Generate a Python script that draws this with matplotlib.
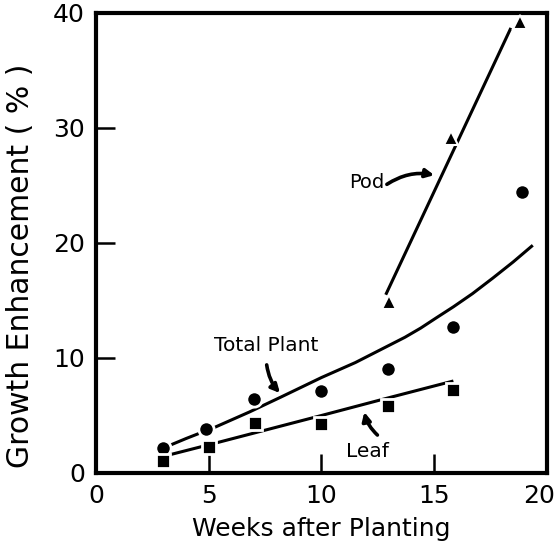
import numpy as np
import matplotlib
matplotlib.use('Agg')
import matplotlib.pyplot as plt
import matplotlib.transforms as mtrans

plt.rcParams['font.family'] = 'DejaVu Sans'

# ---- data ----
semanas = [2.95, 4.9, 7.0, 10.0, 12.95, 15.85, 18.9]
total = [2.2, 3.8, 6.4, 7.1, 9.0, 12.7, 24.4]
sem_hoja = [2.95, 5.0, 7.05, 10.0, 12.95, 15.85]
hoja = [1.0, 2.3, 4.35, 4.3, 5.85, 7.25]
sem_vaina = [13.0, 15.75, 18.8]
vaina = [14.9, 29.1, 39.2]

# fitted curves as drawn
curva_total_x = [2.96, 4.0, 5.3, 6.8, 8.2, 10.0, 11.5, 12.9, 13.7, 14.4, 15.1, 15.85,
                 16.7, 17.6, 18.5, 19.37]
curva_total_y = [2.15, 3.0, 4.0, 5.3, 6.6, 8.3, 9.6, 11.0, 11.8, 12.6, 13.5, 14.45,
                 15.6, 16.95, 18.35, 19.8]
curva_hoja_x = [3.1, 5.3, 10.0, 12.9, 15.85]
curva_hoja_y = [1.5, 2.6, 5.0, 6.5, 8.0]
curva_vaina_x = [12.85, 18.4]
curva_vaina_y = [15.5, 38.7]

xticks = [0, 5, 10, 15, 20]
yticks = [0, 10, 20, 30, 40]

fig = plt.figure(figsize=(5.59, 5.53), dpi=100)
ax = fig.add_axes([0.1717, 0.1447, 0.8068, 0.8318])

lw = 2.2
ax.plot(curva_total_x, curva_total_y, color='k', lw=lw, solid_capstyle='butt', zorder=2)
ax.plot(curva_hoja_x, curva_hoja_y, color='k', lw=lw, solid_capstyle='butt', zorder=2)
ax.plot(curva_vaina_x, curva_vaina_y, color='k', lw=lw, solid_capstyle='butt', zorder=2)

ax.plot(semanas, total, 'o', color='k', ms=11, mec='white', mew=2, ls='none', zorder=3)
ax.plot(sem_hoja, hoja, 's', color='k', ms=10, mec='white', mew=2, ls='none', zorder=3)
ax.plot(sem_vaina, vaina, '^', color='k', ms=10.5, mec='white', mew=1.5, ls='none', zorder=3)

ax.set_xlim(0, 20)
ax.set_ylim(0, 40)
ax.set_xticks(xticks)
ax.set_yticks(yticks)
ax.tick_params(direction='in', length=14, width=1.8, labelsize=18, pad=8)
for t in [ax.xaxis.get_major_ticks()[0], ax.xaxis.get_major_ticks()[-1],
          ax.yaxis.get_major_ticks()[0], ax.yaxis.get_major_ticks()[-1]]:
    t.tick1line.set_visible(False)
for s in ax.spines.values():
    s.set_linewidth(3)

# el "20" del eje x va un poco a la izquierda
ult = ax.xaxis.get_major_ticks()[-1].label1
ult.set_transform(ult.get_transform() + mtrans.ScaledTranslation(-8/100, 0, fig.dpi_scale_trans))

ax.set_xlabel('Weeks after Planting', fontsize=18)
ax.set_ylabel('Growth Enhancement ( % )', fontsize=21.5)
ax.xaxis.set_label_coords(0.5, -0.095)
ax.yaxis.set_label_coords(-0.135, 0.45)

flecha = dict(arrowstyle='-|>,head_length=0.5,head_width=0.25', color='k', lw=2.6,
              shrinkA=0, shrinkB=0)
ax.text(12.0, 25.3, 'Pod', fontsize=14, ha='center', va='center')
ax.annotate('', xy=(15.0, 25.9), xytext=(12.9, 25.1),
            arrowprops=dict(flecha, connectionstyle='arc3,rad=-0.2'))
ax.text(7.54, 11.1, 'Total Plant', fontsize=14.5, ha='center', va='center')
ax.annotate('', xy=(8.16, 6.95), xytext=(7.57, 9.4),
            arrowprops=dict(flecha, connectionstyle='arc3,rad=0.15'))
ax.text(12.04, 1.85, 'Leaf', fontsize=14.5, ha='center', va='center')
ax.annotate('', xy=(11.9, 5.3), xytext=(12.48, 3.3),
            arrowprops=dict(flecha, connectionstyle='arc3,rad=-0.15'))

fig.savefig('out.png', dpi=100)
